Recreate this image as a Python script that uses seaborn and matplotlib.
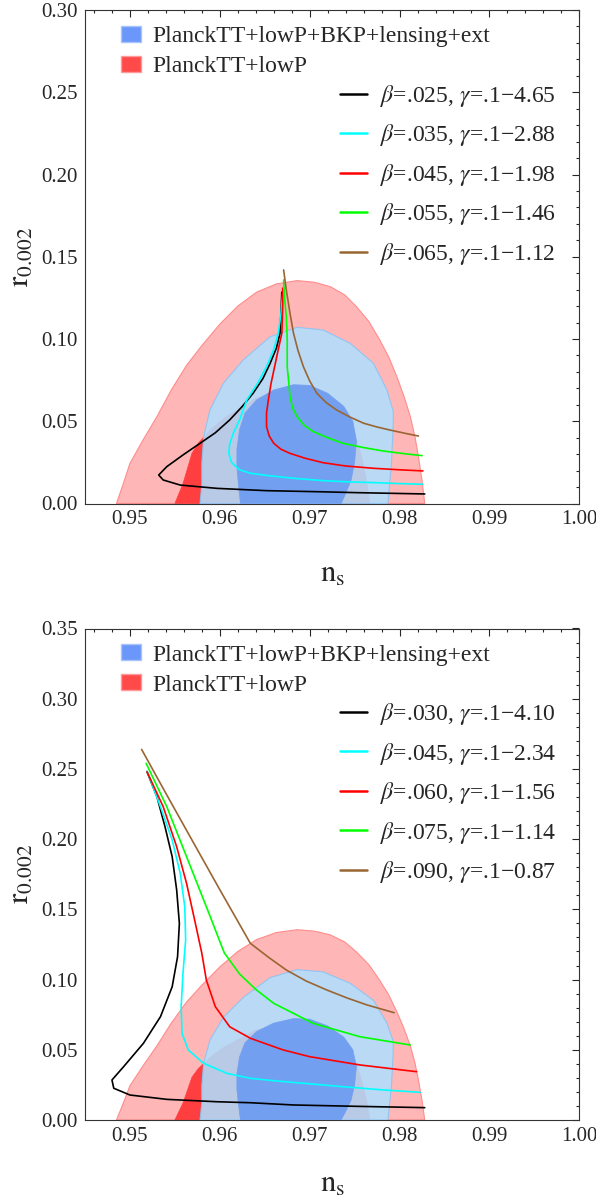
import pandas as pd
import seaborn as sns
import matplotlib
matplotlib.use('Agg')
import matplotlib.pyplot as plt
from matplotlib.patches import Patch
from matplotlib.lines import Line2D
from matplotlib.ticker import MultipleLocator, FormatStrFormatter

# Planck contours in the (ns, r) plane, the same in both panels
red95_ns = [0.9485, 0.9492, 0.9500, 0.9515, 0.9530, 0.9546, 0.9563, 0.9580, 0.9600, 0.9620, 0.9641, 0.9663,
            0.9686, 0.9705, 0.9723, 0.9739, 0.9752, 0.9766, 0.9778, 0.9788, 0.9797, 0.9805, 0.9812,
            0.9817, 0.9821, 0.9825, 0.9828]
red95_r = [0.0, 0.0110, 0.0244, 0.0390, 0.0528, 0.0690, 0.0840, 0.0960, 0.1090, 0.1200, 0.1285, 0.1335,
           0.1355, 0.1345, 0.1318, 0.1268, 0.1197, 0.1105, 0.0994, 0.0890, 0.0771, 0.0650, 0.0528,
           0.0410, 0.0285, 0.0140, 0.0]

red68_ns = [0.9550, 0.9559, 0.9569, 0.9576, 0.9590, 0.9605, 0.9619, 0.9640, 0.9665, 0.9690, 0.9712,
            0.9735, 0.9749, 0.9757, 0.9763, 0.9767]
red68_r = [0.0, 0.0120, 0.0305, 0.0366, 0.0450, 0.0520, 0.0568, 0.0640, 0.0680, 0.0680, 0.0660,
           0.0580, 0.0450, 0.0300, 0.0150, 0.0]

blue95_ns = [0.9578, 0.9580, 0.9580, 0.9582, 0.9589, 0.9604, 0.9626, 0.9656, 0.9686, 0.9715, 0.9745,
             0.9771, 0.9786, 0.9793, 0.9793, 0.9791, 0.9789, 0.9787]
blue95_r = [0.0, 0.0120, 0.0244, 0.0406, 0.0569, 0.0731, 0.0872, 0.1014, 0.1071, 0.1055, 0.0974,
            0.0852, 0.0690, 0.0560, 0.0488, 0.0244, 0.0120, 0.0]

blue68_ns = [0.9623, 0.9621, 0.9619, 0.9619, 0.9622, 0.9628, 0.9641, 0.9660, 0.9682, 0.9700, 0.9720,
             0.9738, 0.9748, 0.9752, 0.9750, 0.9746, 0.9740, 0.9735]
blue68_r = [0.0, 0.0100, 0.0220, 0.0330, 0.0450, 0.0550, 0.0630, 0.0690, 0.0722, 0.0718, 0.0670,
            0.0590, 0.0500, 0.0380, 0.0250, 0.0140, 0.0060, 0.0]

# top panel curves
t_black_ns = [0.9669, 0.9668, 0.9667, 0.9663, 0.9656, 0.9648, 0.9637, 0.9625, 0.9611, 0.9595, 0.9578,
              0.9559, 0.9541, 0.9532, 0.9537, 0.9556, 0.9597, 0.9652, 0.9715, 0.9752, 0.9790, 0.9828]
t_black_r = [0.1285, 0.1150, 0.1035, 0.0945, 0.0852, 0.0760, 0.0670, 0.0590, 0.0508, 0.0430, 0.0366,
             0.0295, 0.0224, 0.0173, 0.0143, 0.0112, 0.0092, 0.0078, 0.0071, 0.0066, 0.0062, 0.0058]
t_cyan_ns = [0.9670, 0.9668, 0.9665, 0.9660, 0.9652, 0.9642, 0.9630, 0.9622, 0.9615, 0.9611, 0.9610,
             0.9613, 0.9622, 0.9634, 0.9656, 0.9685, 0.9715, 0.9745, 0.9771, 0.9800, 0.9826]
t_cyan_r = [0.1278, 0.1150, 0.1035, 0.0935, 0.0832, 0.0730, 0.0629, 0.0508, 0.0427, 0.0360, 0.0305,
            0.0250, 0.0205, 0.0184, 0.0168, 0.0152, 0.0139, 0.0131, 0.0127, 0.0121, 0.0117]
t_red_ns = [0.9670, 0.9670, 0.9669, 0.9665, 0.9661, 0.9657, 0.9654, 0.9652, 0.9652, 0.9655, 0.9660,
            0.9668, 0.9678, 0.9695, 0.9715, 0.9740, 0.9771, 0.9800, 0.9826]
t_red_r = [0.1309, 0.1200, 0.1035, 0.0935, 0.0832, 0.0730, 0.0629, 0.0550, 0.0467, 0.0410, 0.0366,
           0.0330, 0.0305, 0.0275, 0.0248, 0.0228, 0.0214, 0.0205, 0.0198]
t_green_ns = [0.9671, 0.9672, 0.9674, 0.9675, 0.9675, 0.9677, 0.9678, 0.9681, 0.9686, 0.9694, 0.9704,
              0.9720, 0.9737, 0.9760, 0.9782, 0.9805, 0.9825]
t_green_r = [0.1359, 0.1250, 0.1136, 0.1000, 0.0832, 0.0720, 0.0650, 0.0580, 0.0528, 0.0475, 0.0437,
             0.0400, 0.0366, 0.0340, 0.0319, 0.0303, 0.0291]
t_brown_ns = [0.9671, 0.9674, 0.9678, 0.9682, 0.9687, 0.9693, 0.9700, 0.9708, 0.9718, 0.9730, 0.9745,
              0.9760, 0.9775, 0.9789, 0.9805, 0.9821]
t_brown_r = [0.1420, 0.1298, 0.1160, 0.1035, 0.0930, 0.0832, 0.0745, 0.0670, 0.0615, 0.0568, 0.0525,
             0.0488, 0.0465, 0.0447, 0.0428, 0.0410]

# bottom panel curves
b_black_ns = [0.9519, 0.9530, 0.9539, 0.9547, 0.9552, 0.9555, 0.9553, 0.9547, 0.9534, 0.9515, 0.9493,
              0.9480, 0.9482, 0.9500, 0.9541, 0.9597, 0.9634, 0.9682, 0.9755, 0.9828]
b_black_r = [0.2480, 0.2302, 0.2089, 0.1875, 0.1638, 0.1400, 0.1163, 0.0949, 0.0736, 0.0546, 0.0380,
             0.0285, 0.0226, 0.0178, 0.0147, 0.0130, 0.0123, 0.0107, 0.0097, 0.0088]
b_cyan_ns = [0.9519, 0.9534, 0.9547, 0.9556, 0.9561, 0.9562, 0.9559, 0.9557, 0.9558, 0.9565, 0.9582,
             0.9608, 0.9634, 0.9663, 0.9700, 0.9737, 0.9780, 0.9823]
b_cyan_r = [0.2485, 0.2231, 0.1994, 0.1756, 0.1519, 0.1282, 0.1044, 0.0807, 0.0617, 0.0498, 0.0404,
            0.0332, 0.0297, 0.0278, 0.0258, 0.0237, 0.0215, 0.0197]
b_red_ns = [0.9519, 0.9537, 0.9552, 0.9563, 0.9572, 0.9580, 0.9585, 0.9595, 0.9611, 0.9634, 0.9670,
            0.9700, 0.9756, 0.9819]
b_red_r = [0.2480, 0.2231, 0.1946, 0.1685, 0.1424, 0.1187, 0.0997, 0.0807, 0.0664, 0.0582, 0.0500,
           0.0451, 0.0392, 0.0344]
b_green_ns = [0.9518, 0.9541, 0.9563, 0.9585, 0.9605, 0.9622, 0.9640, 0.9660, 0.9704, 0.9756, 0.9812]
b_green_r = [0.2540, 0.2231, 0.1875, 0.1519, 0.1190, 0.1040, 0.0930, 0.0831, 0.0688, 0.0593, 0.0534]
b_brown_ns = [0.9513, 0.9540, 0.9569, 0.9600, 0.9634, 0.9655, 0.9674, 0.9696, 0.9719, 0.9742,
              0.9764, 0.9794]
b_brown_r = [0.2639, 0.2326, 0.1994, 0.1640, 0.1258, 0.1155, 0.1068, 0.0990, 0.0926, 0.0868,
             0.0819, 0.0764]

top_labels = ['$\\beta$=.025, $\\gamma$=.1\u22124.65', '$\\beta$=.035, $\\gamma$=.1\u22122.88',
              '$\\beta$=.045, $\\gamma$=.1\u22121.98', '$\\beta$=.055, $\\gamma$=.1\u22121.46',
              '$\\beta$=.065, $\\gamma$=.1\u22121.12']
bot_labels = ['$\\beta$=.030, $\\gamma$=.1\u22124.10', '$\\beta$=.045, $\\gamma$=.1\u22122.34',
              '$\\beta$=.060, $\\gamma$=.1\u22121.56', '$\\beta$=.075, $\\gamma$=.1\u22121.14',
              '$\\beta$=.090, $\\gamma$=.1\u22120.87']
planck_labels = ['PlanckTT+lowP+BKP+lensing+ext', 'PlanckTT+lowP']
line_colors = ['black', '#00ffff', '#ff0000', '#00ff00', '#996633']

sns.set_theme(style='white')
plt.rcParams['font.family'] = ['Liberation Serif', 'DejaVu Serif']
plt.rcParams['mathtext.fontset'] = 'stix'


def draw_panel(ax, curves, labels, ymax, xlab_y):
	ax.fill(red95_ns, red95_r, facecolor='#ffb6b6', edgecolor='#ff8c8c', lw=0.8, zorder=1)
	ax.fill(red68_ns, red68_r, facecolor='#ff3f3f', edgecolor='#ff3f3f', lw=0.5, zorder=2)
	ax.fill(blue95_ns, blue95_r, facecolor='#b0defe', alpha=0.88, edgecolor='#88c4f4', lw=0.8, zorder=3)
	ax.fill(blue68_ns, blue68_r, facecolor='#739ff0', edgecolor='#739ff0', lw=0.5, zorder=4)

	frames = []
	for (ns, r), lab in zip(curves, labels):
		frames.append(pd.DataFrame({'ns': ns, 'r': r, 'curve': lab}))
	data = pd.concat(frames, ignore_index=True)
	sns.lineplot(data=data, x='ns', y='r', hue='curve', palette=dict(zip(labels, line_colors)),
				 sort=False, estimator=None, errorbar=None, lw=1.2, legend=False, ax=ax, zorder=5)

	ax.set_xlim(0.945, 1.0)
	ax.set_ylim(0, ymax)
	ax.xaxis.set_major_locator(MultipleLocator(0.01))
	ax.xaxis.set_minor_locator(MultipleLocator(0.002))
	ax.yaxis.set_major_locator(MultipleLocator(0.05))
	ax.yaxis.set_minor_locator(MultipleLocator(0.01))
	ax.xaxis.set_major_formatter(FormatStrFormatter('%.2f'))
	ax.yaxis.set_major_formatter(FormatStrFormatter('%.2f'))
	ax.tick_params(which='both', direction='in', top=True, right=True, width=0.8, labelsize=15, pad=5)
	ax.tick_params(which='major', length=5)
	ax.tick_params(which='minor', length=2.5)
	for s in ax.spines.values():
		s.set_color('#333333')
		s.set_linewidth(0.8)

	ax.set_xlabel('$\\mathrm{n_s}$', fontsize=22)
	ax.set_ylabel('$\\mathrm{r_{0.002}}$', fontsize=22)
	ax.xaxis.set_label_coords(0.5, xlab_y)
	ax.yaxis.set_label_coords(-0.10, 0.5)

	patches = [Patch(facecolor='#6a97f9', edgecolor='#a9c4fb'), Patch(facecolor='#ff4a4a', edgecolor='#ff9a9a')]
	leg1 = ax.legend(patches, planck_labels, loc='upper left', bbox_to_anchor=(0.0728, 0.968), frameon=False,
					 borderpad=0, borderaxespad=0, handlelength=0.85, handleheight=0.68, handletextpad=0.47,
					 labelspacing=0.36, fontsize=17)
	ax.add_artist(leg1)
	lines = [Line2D([], [], color=c, lw=1.8) for c in line_colors]
	ax.legend(lines, labels, loc='upper left', bbox_to_anchor=(0.516, 0.852), frameon=False,
			  borderpad=0, borderaxespad=0, handlelength=1.15, handletextpad=0.55,
			  labelspacing=0.57, fontsize=17)


fig = plt.figure(figsize=(5.96, 11.98), dpi=100)
ax_top = fig.add_axes([85 / 596, 1 - 503.5 / 1198, 494.3 / 596, 493.5 / 1198])
ax_bot = fig.add_axes([85 / 596, 1 - 1120 / 1198, 494.3 / 596, 491.5 / 1198])

top_curves = [(t_black_ns, t_black_r), (t_cyan_ns, t_cyan_r), (t_red_ns, t_red_r),
			  (t_green_ns, t_green_r), (t_brown_ns, t_brown_r)]
bot_curves = [(b_black_ns, b_black_r), (b_cyan_ns, b_cyan_r), (b_red_ns, b_red_r),
			  (b_green_ns, b_green_r), (b_brown_ns, b_brown_r)]

draw_panel(ax_top, top_curves, top_labels, 0.30, -0.115)
draw_panel(ax_bot, bot_curves, bot_labels, 0.35, -0.102)

fig.savefig('out.png', dpi=100)
